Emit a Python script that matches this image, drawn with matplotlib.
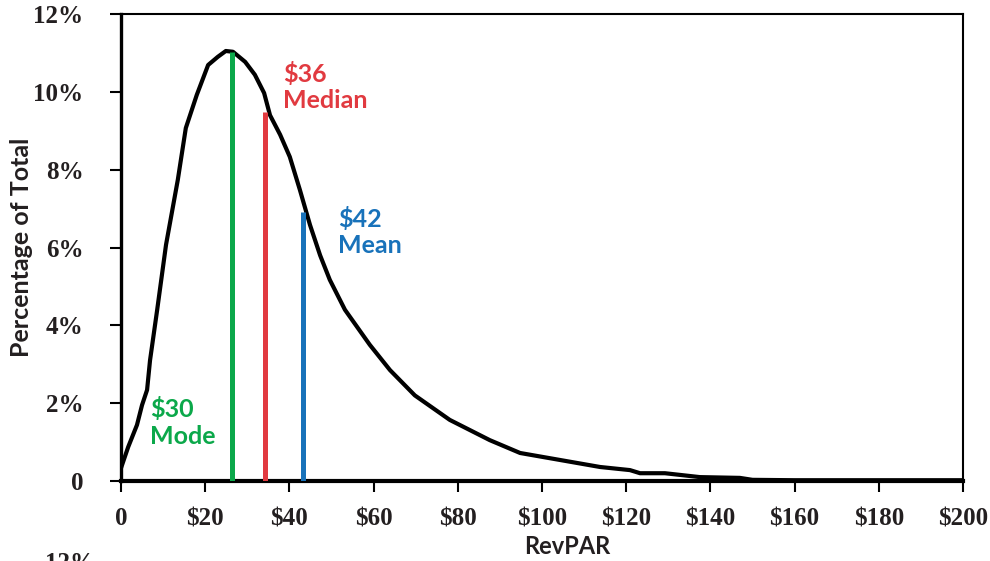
import numpy as np
import matplotlib
matplotlib.use("Agg")
from matplotlib import pyplot as plt
from matplotlib.ticker import FuncFormatter

# distribution of RevPAR (percent of total)
revpar = [0, 1.7, 3.8, 5, 6.2, 6.9, 8.6, 10.7, 13.5, 15.4, 18, 20.7, 23, 24.9, 26.6,
          29.5, 31.8, 34, 35.4, 37.8, 40.1, 42.5, 44.9, 47.3, 49.6, 53.2, 59.1, 63.9,
          69.8, 78.1, 87.6, 94.8, 104.3, 113.8, 120.9, 123.3, 129.2, 137.5, 147, 150,
          160, 180, 200]
share = [0.33, 0.87, 1.44, 1.95, 2.34, 3.1, 4.4, 6.07, 7.74, 9.07, 9.92, 10.69, 10.9,
         11.05, 11.03, 10.77, 10.44, 9.97, 9.4, 8.9, 8.33, 7.48, 6.58, 5.8, 5.17, 4.4,
         3.5, 2.85, 2.2, 1.57, 1.05, 0.72, 0.54, 0.36, 0.28, 0.2, 0.2, 0.1, 0.08, 0.03,
         0.02, 0.02, 0.02]

# marker lines: position on the axis, height, label
stat_names = ["Mode", "Median", "Mean"]
stat_labels = ["$30", "$36", "$42"]
stat_x = [26.4, 34.2, 43.2]
stat_top = [11.03, 9.49, 6.92]
stat_colors = ["#0ba84a", "#e13a40", "#1872ba"]
label_pos = [(7, 2.15), (38.5, 10.78), (51.5, 7.05)]

xticks = list(range(0, 201, 20))
yticks = [0, 2, 4, 6, 8, 10, 12]

serif = "Liberation Serif"
sans = "Lato"
ink = "#231f20"

fig = plt.figure(figsize=(9.9, 5.61), dpi=100)
ax = fig.add_axes([0.1222, 0.1426, 0.8505, 0.8324])

ax.plot(revpar, share, color="black", lw=3, solid_joinstyle="round", zorder=3)
for x, top, c, lab, name, (tx, ty) in zip(stat_x, stat_top, stat_colors,
                                          stat_labels, stat_names, label_pos):
    ax.vlines(x, 0, top, color=c, lw=3.6, zorder=4)
    ax.text(tx, ty, lab + "\n" + name, color=c, fontsize=18, fontweight="bold",
            family=sans, va="top", ha="left", linespacing=1.2)

ax.set_xlim(0, 200)
ax.set_ylim(0, 12)
ax.set_xticks(xticks)
ax.set_yticks(yticks)
ax.xaxis.set_major_formatter(FuncFormatter(lambda v, p: "0" if v == 0 else "$%d" % v))
ax.yaxis.set_major_formatter(FuncFormatter(lambda v, p: "0" if v == 0 else "%d%%" % v))
ax.tick_params(axis="x", direction="out", length=8, width=1.5, pad=11,
               labelsize=18)
ax.tick_params(axis="y", direction="out", length=8, width=1.5, pad=19,
               labelsize=18)
for lab in ax.get_xticklabels() + ax.get_yticklabels():
    lab.set_family(serif)
    lab.set_fontweight("bold")
    lab.set_color(ink)

ax.spines["left"].set_linewidth(2.4)
ax.spines["bottom"].set_linewidth(3)
ax.spines["top"].set_linewidth(1.5)
ax.spines["right"].set_linewidth(1.5)

ax.set_xlabel("RevPAR", family=sans, fontweight="bold", fontsize=17,
              color=ink, labelpad=0)
ax.xaxis.set_label_coords(0.53, -0.115)
ax.set_ylabel("Percentage of Total", family=sans, fontweight="bold", fontsize=18,
              color=ink)
ax.yaxis.set_label_coords(-0.105, 0.5)

# top of the next chart's label, cut off by the image edge
fig.text(0.045, -0.016, "12%", family=serif, fontweight="bold", fontsize=18,
         color=ink)

fig.savefig("out.png", dpi=100)
